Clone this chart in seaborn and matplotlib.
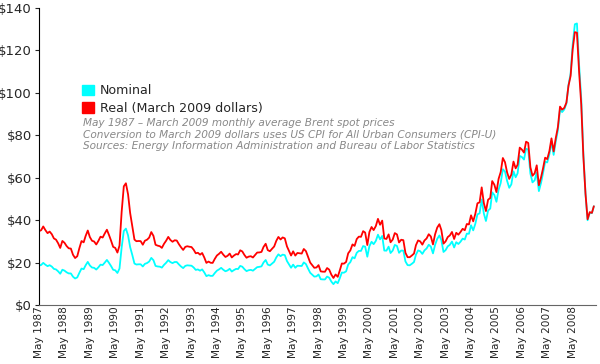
### Brent crude monthly average spot prices, nominal vs. real (March 2009 dollars)

import pandas as pd
import matplotlib.pyplot as plt
import seaborn as sns
from matplotlib.patches import Patch
from matplotlib.ticker import FuncFormatter

# monthly, May 1987 .. March 2009
months = pd.date_range("1987-05-01", "2009-03-01", freq="MS")

nominal = [
    18.58, 18.86, 19.86, 18.98, 18.31, 18.76, 18.11, 17.03,
    16.75, 15.84, 14.73, 16.63, 16.21, 15.41, 14.89, 14.88, 13.33, 12.51, 13.01, 15.16,
    17.17, 16.89, 18.70, 20.32, 18.63, 17.67, 17.51, 16.71, 17.77, 19.02, 18.83, 19.98,
    21.25, 19.81, 18.39, 16.61, 16.35, 15.10, 17.17, 27.17, 34.90, 36.02, 32.82, 27.29,
    23.57, 19.54, 19.08, 19.18, 19.19, 18.17, 19.40, 19.77, 20.50, 22.21, 21.11, 18.41,
    18.16, 18.05, 17.63, 18.92, 19.89, 21.16, 20.25, 19.74, 20.27, 20.26, 19.13, 18.17,
    17.40, 18.44, 18.70, 18.59, 18.52, 17.69, 16.55, 16.76, 16.18, 16.79, 15.34, 13.61,
    14.07, 13.72, 13.74, 15.08, 16.18, 16.79, 17.51, 16.61, 15.90, 16.29, 17.06, 15.77,
    16.47, 17.02, 16.95, 18.42, 18.06, 16.89, 15.97, 16.40, 16.56, 16.18, 17.00, 17.84,
    17.98, 18.22, 20.03, 21.21, 19.06, 18.67, 19.54, 20.39, 22.45, 23.88, 23.03, 23.75,
    23.51, 20.73, 19.26, 17.56, 19.04, 17.55, 18.51, 18.43, 18.38, 20.07, 19.27, 17.20,
    15.19, 14.21, 13.38, 13.51, 14.38, 12.15, 12.06, 12.04, 13.40, 12.86, 11.03, 9.82,
    11.11, 10.27, 12.51, 15.29, 15.23, 15.86, 19.08, 20.22, 22.54, 22.01, 24.60, 25.50,
    25.50, 27.78, 27.49, 22.76, 27.74, 29.80, 28.68, 30.20, 33.14, 30.96, 32.55, 25.66,
    25.62, 27.50, 24.50, 25.66, 28.31, 27.85, 24.61, 25.68, 25.62, 20.54, 18.80, 18.71,
    19.42, 20.28, 23.70, 25.73, 25.35, 24.08, 25.74, 26.65, 28.40, 27.54, 24.34, 28.33,
    31.18, 32.77, 30.61, 25.00, 25.86, 27.65, 28.35, 29.89, 27.11, 29.61, 28.75, 29.81,
    31.28, 30.86, 33.63, 33.59, 37.57, 35.18, 38.22, 42.74, 43.20, 49.78, 43.11, 39.60,
    44.51, 45.48, 53.10, 51.88, 48.65, 54.35, 57.52, 63.98, 62.91, 58.54, 55.24, 56.86,
    62.99, 60.21, 62.06, 70.26, 69.78, 68.56, 73.67, 73.23, 61.96, 57.81, 58.76, 62.47,
    53.68, 57.56, 62.05, 67.49, 67.21, 71.05, 76.93, 70.76, 77.17, 82.34, 92.41, 90.93,
    92.18, 94.99, 103.64, 109.07, 122.80, 132.32, 132.72, 113.24, 97.23, 71.58, 52.45, 39.95,
    43.44, 43.32, 46.54,
]

real = [
    34.82, 35.25, 37.02, 35.28, 33.87, 34.61, 33.38, 31.39,
    30.79, 29.05, 26.90, 30.20, 29.34, 27.78, 26.73, 26.59, 23.66, 22.14, 23.00, 26.76,
    30.15, 29.54, 32.52, 35.11, 32.01, 30.29, 29.94, 28.52, 30.24, 32.20, 31.80, 33.71,
    35.49, 32.92, 30.40, 27.41, 26.91, 24.72, 28.00, 43.91, 55.94, 57.38, 52.18, 43.39,
    37.24, 30.83, 30.07, 30.17, 30.11, 28.42, 30.30, 30.78, 31.78, 34.38, 32.59, 28.39,
    27.97, 27.71, 26.92, 28.85, 30.29, 32.10, 30.66, 29.81, 30.51, 30.39, 28.66, 27.24,
    25.96, 27.40, 27.69, 27.46, 27.32, 26.06, 24.38, 24.62, 23.72, 24.51, 22.38, 19.86,
    20.47, 19.89, 19.85, 21.76, 23.33, 24.13, 25.09, 23.72, 22.64, 23.18, 24.24, 22.41,
    23.31, 24.00, 23.81, 25.79, 25.25, 23.56, 22.28, 22.81, 22.99, 22.39, 23.55, 24.73,
    24.78, 25.02, 27.36, 28.87, 25.88, 25.34, 26.48, 27.57, 30.26, 32.09, 30.88, 31.85,
    31.43, 27.63, 25.60, 23.32, 25.30, 23.29, 24.53, 24.38, 24.24, 26.41, 25.38, 22.69,
    19.99, 18.67, 17.54, 17.68, 18.79, 15.86, 15.71, 15.68, 17.42, 16.68, 14.31, 12.75,
    14.39, 13.28, 16.13, 19.57, 19.49, 20.30, 24.35, 25.74, 28.56, 27.84, 31.09, 32.23,
    32.13, 34.81, 34.14, 28.27, 34.40, 36.77, 35.31, 37.18, 40.60, 37.83, 39.78, 31.36,
    31.13, 33.28, 29.57, 30.84, 33.89, 33.28, 29.48, 30.76, 30.56, 24.59, 22.54, 22.53,
    23.32, 24.25, 28.20, 30.44, 29.99, 28.46, 30.40, 31.37, 33.37, 32.30, 28.55, 33.32,
    36.51, 38.08, 35.35, 28.93, 29.97, 32.02, 32.80, 34.43, 31.12, 34.05, 33.15, 34.40,
    35.91, 35.24, 38.17, 37.99, 42.27, 39.44, 42.92, 47.95, 48.38, 55.45, 48.02, 44.27,
    49.63, 50.44, 58.41, 56.70, 53.22, 59.46, 62.64, 69.29, 67.31, 62.52, 59.44, 61.47,
    67.59, 64.42, 66.09, 74.19, 73.27, 71.85, 76.98, 76.38, 64.93, 60.93, 62.05, 65.84,
    56.42, 60.15, 64.28, 69.45, 68.76, 72.54, 78.55, 72.39, 78.71, 83.82, 93.52, 92.11,
    92.92, 95.46, 103.23, 107.98, 120.59, 128.62, 128.34, 109.96, 94.51, 70.29, 52.50, 40.43,
    43.79, 43.41, 46.54,
]

tick_years = list(range(1987, 2009))
y_ticks = [0, 20, 40, 60, 80, 100, 120, 140]

notes = [
    "May 1987 \u2013 March 2009 monthly average Brent spot prices",
    "Conversion to March 2009 dollars uses US CPI for All Urban Consumers (CPI-U)",
    "Sources: Energy Information Administration and Bureau of Labor Statistics",
]

df = pd.DataFrame({"month": months, "Nominal": nominal, "Real": real})

sns.set_style("ticks")
plt.rcParams["font.family"] = ["DejaVu Sans"]

fig = plt.figure(figsize=(6, 3.64), dpi=100)
ax = fig.add_axes([39 / 600, 1 - 305 / 364, 557 / 600, 297 / 364])

sns.lineplot(data=df, x="month", y="Nominal", color="cyan", lw=1.3, ax=ax)
sns.lineplot(data=df, x="month", y="Real", color="red", lw=1.3, ax=ax)

ax.set_xlim(pd.Timestamp("1987-05-01"), pd.Timestamp("2009-04-01"))
ax.set_ylim(0, 140)
ax.set_yticks(y_ticks)
ax.yaxis.set_major_formatter(FuncFormatter(lambda v, p: f"${v:.0f}"))
ax.set_xticks([pd.Timestamp(f"{y}-05-01") for y in tick_years])
ax.set_xticklabels([f"May {y}" for y in tick_years], rotation=90, fontsize=7.6)
ax.tick_params(axis="y", labelsize=9.5, length=3, pad=2)
ax.tick_params(axis="x", length=0, pad=1)
ax.set_xlabel("")
ax.set_ylabel("")

sns.despine(ax=ax)
ax.spines["left"].set_color("black")
ax.spines["bottom"].set_color("#666666")

ax.legend(
    handles=[Patch(color="cyan"), Patch(color="red")],
    labels=["Nominal", "Real (March 2009 dollars)"],
    loc="upper left",
    bbox_to_anchor=(0.077, 0.743),
    frameon=False,
    fontsize=9.1,
    handlelength=0.95,
    handleheight=0.95,
    handletextpad=0.45,
    labelspacing=0.38,
    borderaxespad=0,
    borderpad=0,
)

fig.text(83 / 600, 1 - 134.5 / 364, "\n".join(notes), fontsize=7.6, style="italic",
         color="#888888", va="center", ha="left")

plt.savefig("out.png", dpi=100)
